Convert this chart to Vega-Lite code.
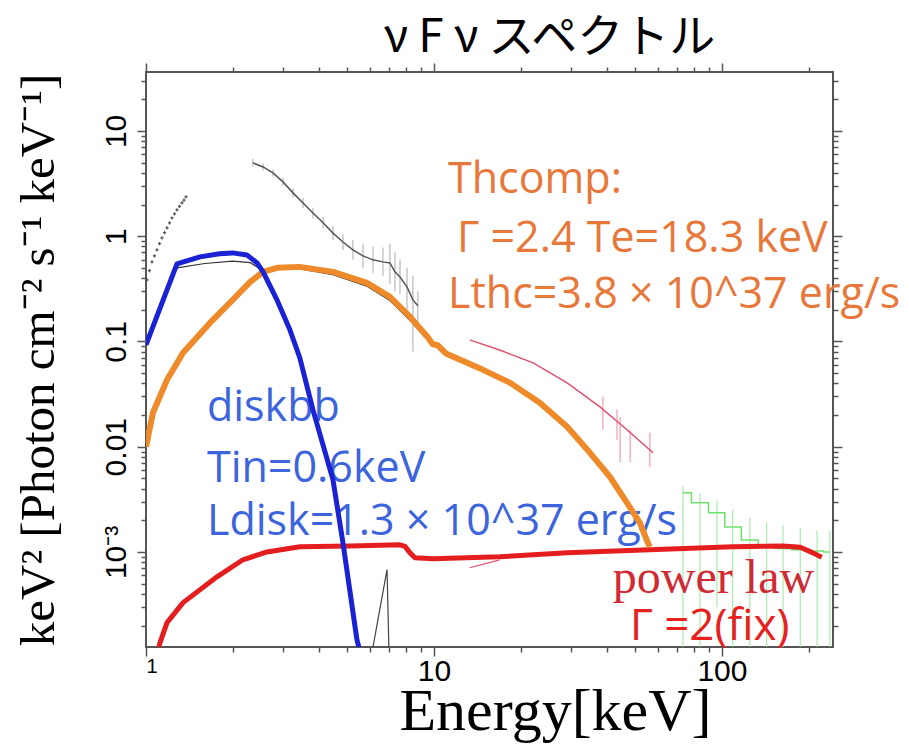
{
  "$schema": "https://vega.github.io/schema/vega-lite/v6.json",
  "width": 687,
  "height": 575,
  "autosize": {"type": "none"},
  "padding": {"left": 146, "top": 72, "right": 76, "bottom": 103},
  "background": "white",
  "title": {"text": "ν F ν スペクトル", "font": "Noto Sans CJK JP", "fontSize": 46, "fontWeight": "normal", "color": "black", "anchor": "middle", "dx": 60, "offset": 0},
  "datasets": {
    "blue": [
      {"x": 1.0, "y": 0.093}, {"x": 1.281, "y": 0.546}, {"x": 1.54, "y": 0.636}, {"x": 1.8, "y": 0.68},
      {"x": 2.0, "y": 0.694}, {"x": 2.24, "y": 0.664}, {"x": 2.43, "y": 0.557}, {"x": 2.55, "y": 0.458},
      {"x": 2.85, "y": 0.248}, {"x": 3.16, "y": 0.129}, {"x": 3.42, "y": 0.07}, {"x": 3.8, "y": 0.0224},
      {"x": 4.46, "y": 0.00485}, {"x": 4.83, "y": 0.00122}, {"x": 5.4, "y": 0.000147}, {"x": 5.6, "y": 0.0001}
    ],
    "orange": [
      {"x": 1.0, "y": 0.01}, {"x": 1.057, "y": 0.021}, {"x": 1.183, "y": 0.0432}, {"x": 1.345, "y": 0.078},
      {"x": 1.667, "y": 0.15}, {"x": 2.0, "y": 0.248}, {"x": 2.3, "y": 0.368}, {"x": 2.55, "y": 0.458},
      {"x": 2.85, "y": 0.5}, {"x": 3.42, "y": 0.511}, {"x": 4.46, "y": 0.458}, {"x": 5.85, "y": 0.36},
      {"x": 7.03, "y": 0.265}, {"x": 8.26, "y": 0.171}, {"x": 9.5, "y": 0.11}, {"x": 9.9, "y": 0.094},
      {"x": 10.3, "y": 0.092}, {"x": 11.0, "y": 0.077}, {"x": 14.8, "y": 0.0537}, {"x": 18.4, "y": 0.0404},
      {"x": 23.3, "y": 0.0261}, {"x": 29.0, "y": 0.0155}, {"x": 34.8, "y": 0.00875}, {"x": 40.8, "y": 0.00518},
      {"x": 46.8, "y": 0.00293}, {"x": 51.9, "y": 0.00189}, {"x": 55.3, "y": 0.00122}, {"x": 56.2, "y": 0.00112}
    ],
    "red": [
      {"x": 1.09, "y": 0.0001}, {"x": 1.118, "y": 0.000137}, {"x": 1.183, "y": 0.000213}, {"x": 1.345, "y": 0.00033},
      {"x": 1.764, "y": 0.00058}, {"x": 2.17, "y": 0.000843}, {"x": 2.63, "y": 0.001}, {"x": 3.42, "y": 0.00112},
      {"x": 5.11, "y": 0.00114}, {"x": 7.62, "y": 0.00117}, {"x": 7.93, "y": 0.00113}, {"x": 8.26, "y": 0.00098},
      {"x": 8.59, "y": 0.00088}, {"x": 9.92, "y": 0.00086}, {"x": 16.9, "y": 0.0009}, {"x": 29.0, "y": 0.00098},
      {"x": 56.2, "y": 0.00105}, {"x": 109, "y": 0.00112}, {"x": 163, "y": 0.00114}, {"x": 187, "y": 0.00111},
      {"x": 207, "y": 0.00098}, {"x": 222, "y": 0.00089}
    ],
    "greyLow": [
      {"x": 1.008, "y": 0.385}, {"x": 1.028, "y": 0.47}, {"x": 1.049, "y": 0.57}, {"x": 1.07, "y": 0.65},
      {"x": 1.092, "y": 0.74}, {"x": 1.114, "y": 0.85}, {"x": 1.136, "y": 0.964}, {"x": 1.16, "y": 1.08},
      {"x": 1.183, "y": 1.2}, {"x": 1.207, "y": 1.34}, {"x": 1.231, "y": 1.49}, {"x": 1.256, "y": 1.63},
      {"x": 1.281, "y": 1.78}, {"x": 1.307, "y": 1.92}, {"x": 1.333, "y": 2.07}, {"x": 1.355, "y": 2.2}, {"x": 1.377, "y": 2.36}
    ],
    "grey": [
      {"x": 2.35, "y": 4.97, "lo": 4.6, "hi": 5.4}, {"x": 2.55, "y": 4.55, "lo": 4.2, "hi": 4.9},
      {"x": 2.76, "y": 3.99, "lo": 3.7, "hi": 4.3}, {"x": 2.99, "y": 3.28, "lo": 3.0, "hi": 3.6},
      {"x": 3.24, "y": 2.58, "lo": 2.35, "hi": 2.85}, {"x": 3.51, "y": 2.07, "lo": 1.85, "hi": 2.3},
      {"x": 3.8, "y": 1.66, "lo": 1.48, "hi": 1.86}, {"x": 4.12, "y": 1.34, "lo": 1.18, "hi": 1.52},
      {"x": 4.46, "y": 1.07, "lo": 0.92, "hi": 1.25}, {"x": 4.83, "y": 0.88, "lo": 0.74, "hi": 1.05},
      {"x": 5.23, "y": 0.74, "lo": 0.6, "hi": 0.92}, {"x": 5.67, "y": 0.65, "lo": 0.5, "hi": 0.85},
      {"x": 6.14, "y": 0.596, "lo": 0.45, "hi": 0.8}, {"x": 6.65, "y": 0.57, "lo": 0.42, "hi": 0.78},
      {"x": 7.03, "y": 0.557, "lo": 0.35, "hi": 0.85}, {"x": 7.32, "y": 0.458, "lo": 0.3, "hi": 0.7},
      {"x": 7.62, "y": 0.41, "lo": 0.28, "hi": 0.6}, {"x": 8.06, "y": 0.33, "lo": 0.2, "hi": 0.5},
      {"x": 8.45, "y": 0.248, "lo": 0.08, "hi": 0.42}, {"x": 8.79, "y": 0.218, "lo": 0.15, "hi": 0.3}
    ],
    "modelLo": [
      {"x": 1.281, "y": 0.5}, {"x": 1.6, "y": 0.55}, {"x": 2.0, "y": 0.58}, {"x": 2.3, "y": 0.56}, {"x": 2.55, "y": 0.47}
    ],
    "modelMid": [
      {"x": 3.42, "y": 0.49}, {"x": 4.46, "y": 0.43}, {"x": 5.85, "y": 0.335}, {"x": 7.03, "y": 0.245}, {"x": 8.26, "y": 0.158}, {"x": 9.3, "y": 0.11}
    ],
    "spike": [
      {"x": 6.0, "y": 0.00011}, {"x": 6.14, "y": 0.000125}, {"x": 6.87, "y": 0.00068}, {"x": 6.98, "y": 0.00011}
    ],
    "pink": [
      {"x": 13.3, "y": 0.1035}, {"x": 16.9, "y": 0.083}, {"x": 22.1, "y": 0.0626}, {"x": 29.0, "y": 0.0404},
      {"x": 37.7, "y": 0.0239}, {"x": 46.8, "y": 0.0145}, {"x": 57.6, "y": 0.00875}
    ],
    "pinkErr": [
      {"x": 38.6, "lo": 0.0145, "hi": 0.0298}, {"x": 43.2, "lo": 0.0116, "hi": 0.0225},
      {"x": 44.3, "lo": 0.0071, "hi": 0.0192}, {"x": 48.0, "lo": 0.0071, "hi": 0.0145},
      {"x": 56.2, "lo": 0.0064, "hi": 0.0136}
    ],
    "pinkPl": [
      {"x": 13.3, "y": 0.000708}, {"x": 16.9, "y": 0.00084}
    ],
    "green": [
      {"x": 73.2, "y": 0.00365, "lo": 0.00005, "hi": 0.0042}, {"x": 83.9, "y": 0.00293, "lo": 0.00005, "hi": 0.0036},
      {"x": 96.1, "y": 0.00236, "lo": 0.0003, "hi": 0.0031}, {"x": 109, "y": 0.00173, "lo": 0.00005, "hi": 0.0025},
      {"x": 125, "y": 0.0013, "lo": 0.00005, "hi": 0.0021}, {"x": 143, "y": 0.00117, "lo": 0.00005, "hi": 0.0019},
      {"x": 163, "y": 0.00108, "lo": 0.00005, "hi": 0.0018}, {"x": 187, "y": 0.00105, "lo": 0.00005, "hi": 0.0017},
      {"x": 214, "y": 0.00102, "lo": 0.00005, "hi": 0.0016}, {"x": 237, "y": 0.001, "lo": 0.00005, "hi": 0.0016}
    ]
  },
  "layer": [
    {
      "data": {"name": "blue"},
      "mark": {"type": "point", "opacity": 0},
      "encoding": {
        "x": {"field": "x", "type": "quantitative", "scale": {"type": "log", "domain": [1, 243], "nice": false},
          "axis": {"orient": "bottom", "zindex": 1,
            "values": [1, 2, 3, 4, 5, 6, 7, 8, 9, 10, 20, 30, 40, 50, 60, 70, 80, 90, 100, 200],
            "labelExpr": "(datum.value == 1 || datum.value == 10 || datum.value == 100) ? format(datum.value, '~g') : ''",
            "ticks": true,
            "tickSize": {"condition": {"test": "datum.value == 1 || datum.value == 10 || datum.value == 100", "value": 9}, "value": 5},
            "tickColor": "#555555", "tickWidth": 1.5, "labelPadding": 0,
            "labelFontSize": {"condition": {"test": "datum.value == 1", "value": 20}, "value": 30},
            "labelBaseline": "top",
            "title": "Energy[keV]", "titleFont": "Liberation Serif", "titleFontSize": 60, "titleFontWeight": "normal",
            "titleColor": "black", "titlePadding": -4, "titleX": 409}},
        "y": {"field": "y", "type": "quantitative", "scale": {"type": "log", "domain": [0.000125, 36.3], "nice": false},
          "axis": {"orient": "left", "zindex": 1,
            "values": [0.0002, 0.0003, 0.0004, 0.0005, 0.0006, 0.0007, 0.0008, 0.0009, 0.001, 0.002, 0.003, 0.004, 0.005, 0.006, 0.007, 0.008, 0.009, 0.01, 0.02, 0.03, 0.04, 0.05, 0.06, 0.07, 0.08, 0.09, 0.1, 0.2, 0.3, 0.4, 0.5, 0.6, 0.7, 0.8, 0.9, 1, 2, 3, 4, 5, 6, 7, 8, 9, 10, 20, 30],
            "labelExpr": "datum.value == 0.001 ? '10⁻³' : (datum.value == 0.01 || datum.value == 0.1 || datum.value == 1 || datum.value == 10) ? format(datum.value, '~g') : ''",
            "ticks": true,
            "tickSize": {"condition": {"test": "datum.value == 0.001 || datum.value == 0.01 || datum.value == 0.1 || datum.value == 1 || datum.value == 10", "value": 9}, "value": 5},
            "tickColor": "#555555", "tickWidth": 1.5, "labelPadding": 12, "labelAngle": -90, "labelAlign": "center", "labelBaseline": "alphabetic", "labelFontSize": 30,
            "title": "keV² [Photon cm⁻² s⁻¹ keV⁻¹]", "titleFont": "Liberation Serif", "titleFontSize": 49, "titleFontWeight": "normal",
            "titleColor": "black", "titlePadding": 38}}
      }
    },
    {
      "data": {"name": "blue"},
      "mark": {"type": "point", "opacity": 0},
      "encoding": {
        "x": {"field": "x", "type": "quantitative", "scale": {"type": "log", "domain": [1, 243], "nice": false},
          "axis": {"orient": "top", "zindex": 1, "values": [1, 2, 3, 4, 5, 6, 7, 8, 9, 10, 20, 30, 40, 50, 60, 70, 80, 90, 100, 200], "labels": false, "ticks": true,
            "tickSize": {"condition": {"test": "datum.value == 1 || datum.value == 10 || datum.value == 100", "value": 9}, "value": 5},
            "tickColor": "#555555", "tickWidth": 1.5, "title": null}},
        "y": {"field": "y", "type": "quantitative", "scale": {"type": "log", "domain": [0.000125, 36.3], "nice": false},
          "axis": {"orient": "right", "zindex": 1, "values": [0.0002, 0.0003, 0.0004, 0.0005, 0.0006, 0.0007, 0.0008, 0.0009, 0.001, 0.002, 0.003, 0.004, 0.005, 0.006, 0.007, 0.008, 0.009, 0.01, 0.02, 0.03, 0.04, 0.05, 0.06, 0.07, 0.08, 0.09, 0.1, 0.2, 0.3, 0.4, 0.5, 0.6, 0.7, 0.8, 0.9, 1, 2, 3, 4, 5, 6, 7, 8, 9, 10, 20, 30], "labels": false, "ticks": true,
            "tickSize": {"condition": {"test": "datum.value == 0.001 || datum.value == 0.01 || datum.value == 0.1 || datum.value == 1 || datum.value == 10", "value": 9}, "value": 5},
            "tickColor": "#555555", "tickWidth": 1.5, "title": null}}
      }
    },
    {
      "data": {"name": "grey"},
      "mark": {"type": "rule", "color": "#b8b8b8", "strokeWidth": 1.2, "clip": true},
      "encoding": {
        "x": {"field": "x", "type": "quantitative", "scale": {"type": "log", "domain": [1, 243], "nice": false}, "axis": null},
        "y": {"field": "lo", "type": "quantitative", "scale": {"type": "log", "domain": [0.000125, 36.3], "nice": false}, "axis": null},
        "y2": {"field": "hi"}
      }
    },
    {
      "data": {"name": "grey"},
      "mark": {"type": "line", "color": "#555555", "strokeWidth": 1.5, "clip": true},
      "encoding": {
        "x": {"field": "x", "type": "quantitative", "scale": {"type": "log", "domain": [1, 243], "nice": false}, "axis": null},
        "y": {"field": "y", "type": "quantitative", "scale": {"type": "log", "domain": [0.000125, 36.3], "nice": false}, "axis": null}
      }
    },
    {
      "data": {"name": "greyLow"},
      "mark": {"type": "point", "shape": "cross", "size": 10, "filled": true, "color": "#555555", "opacity": 1, "clip": true},
      "encoding": {
        "x": {"field": "x", "type": "quantitative", "scale": {"type": "log", "domain": [1, 243], "nice": false}, "axis": null},
        "y": {"field": "y", "type": "quantitative", "scale": {"type": "log", "domain": [0.000125, 36.3], "nice": false}, "axis": null}
      }
    },
    {
      "data": {"name": "green"},
      "mark": {"type": "rule", "color": "#9be89b", "strokeWidth": 1, "clip": true},
      "encoding": {
        "x": {"field": "x", "type": "quantitative", "scale": {"type": "log", "domain": [1, 243], "nice": false}, "axis": null},
        "y": {"field": "lo", "type": "quantitative", "scale": {"type": "log", "domain": [0.000125, 36.3], "nice": false}, "axis": null},
        "y2": {"field": "hi"}
      }
    },
    {
      "data": {"name": "green"},
      "mark": {"type": "line", "color": "#6fe06f", "strokeWidth": 1.5, "interpolate": "step", "clip": true},
      "encoding": {
        "x": {"field": "x", "type": "quantitative", "scale": {"type": "log", "domain": [1, 243], "nice": false}, "axis": null},
        "y": {"field": "y", "type": "quantitative", "scale": {"type": "log", "domain": [0.000125, 36.3], "nice": false}, "axis": null}
      }
    },
    {
      "data": {"name": "pinkErr"},
      "mark": {"type": "rule", "color": "#f08a9a", "strokeWidth": 1, "clip": true},
      "encoding": {
        "x": {"field": "x", "type": "quantitative", "scale": {"type": "log", "domain": [1, 243], "nice": false}, "axis": null},
        "y": {"field": "lo", "type": "quantitative", "scale": {"type": "log", "domain": [0.000125, 36.3], "nice": false}, "axis": null},
        "y2": {"field": "hi"}
      }
    },
    {
      "data": {"name": "pink"},
      "mark": {"type": "line", "color": "#e0506e", "strokeWidth": 1.5, "clip": true},
      "encoding": {
        "x": {"field": "x", "type": "quantitative", "scale": {"type": "log", "domain": [1, 243], "nice": false}, "axis": null},
        "y": {"field": "y", "type": "quantitative", "scale": {"type": "log", "domain": [0.000125, 36.3], "nice": false}, "axis": null}
      }
    },
    {
      "data": {"name": "pinkPl"},
      "mark": {"type": "line", "color": "#e0506e", "strokeWidth": 1.2, "clip": true},
      "encoding": {
        "x": {"field": "x", "type": "quantitative", "scale": {"type": "log", "domain": [1, 243], "nice": false}, "axis": null},
        "y": {"field": "y", "type": "quantitative", "scale": {"type": "log", "domain": [0.000125, 36.3], "nice": false}, "axis": null}
      }
    },
    {
      "data": {"name": "spike"},
      "mark": {"type": "line", "color": "#444444", "strokeWidth": 1.2, "clip": true},
      "encoding": {
        "x": {"field": "x", "type": "quantitative", "scale": {"type": "log", "domain": [1, 243], "nice": false}, "axis": null},
        "y": {"field": "y", "type": "quantitative", "scale": {"type": "log", "domain": [0.000125, 36.3], "nice": false}, "axis": null}
      }
    },
    {
      "data": {"name": "modelLo"},
      "mark": {"type": "line", "color": "#333333", "strokeWidth": 1.2, "clip": true},
      "encoding": {
        "x": {"field": "x", "type": "quantitative", "scale": {"type": "log", "domain": [1, 243], "nice": false}, "axis": null},
        "y": {"field": "y", "type": "quantitative", "scale": {"type": "log", "domain": [0.000125, 36.3], "nice": false}, "axis": null}
      }
    },
    {
      "data": {"name": "modelMid"},
      "mark": {"type": "line", "color": "#333333", "strokeWidth": 1.2, "clip": true},
      "encoding": {
        "x": {"field": "x", "type": "quantitative", "scale": {"type": "log", "domain": [1, 243], "nice": false}, "axis": null},
        "y": {"field": "y", "type": "quantitative", "scale": {"type": "log", "domain": [0.000125, 36.3], "nice": false}, "axis": null}
      }
    },
    {
      "data": {"values": [
        {"x": 11.19, "y": 2.58, "text": "Thcomp:"},
        {"x": 12.02, "y": 0.71, "text": "Γ =2.4 Te=18.3 keV"},
        {"x": 11.19, "y": 0.208, "text": "Lthc=3.8 × 10^37 erg/s"}
      ]},
      "mark": {"type": "text", "font": "Open Sans", "fontSize": 43, "color": "#e8783a", "align": "left", "baseline": "alphabetic"},
      "encoding": {
        "x": {"field": "x", "type": "quantitative", "scale": {"type": "log", "domain": [1, 243], "nice": false}, "axis": null},
        "y": {"field": "y", "type": "quantitative", "scale": {"type": "log", "domain": [0.000125, 36.3], "nice": false}, "axis": null},
        "text": {"field": "text"}
      }
    },
    {
      "data": {"values": [
        {"x": 1.628, "y": 0.0176, "text": "diskbb"},
        {"x": 1.628, "y": 0.00464, "text": "Tin=0.6keV"},
        {"x": 1.628, "y": 0.00146, "text": "Ldisk=1.3 × 10^37 erg/s"}
      ]},
      "mark": {"type": "text", "font": "Open Sans", "fontSize": 43, "color": "#3c64dc", "align": "left", "baseline": "alphabetic"},
      "encoding": {
        "x": {"field": "x", "type": "quantitative", "scale": {"type": "log", "domain": [1, 243], "nice": false}, "axis": null},
        "y": {"field": "y", "type": "quantitative", "scale": {"type": "log", "domain": [0.000125, 36.3], "nice": false}, "axis": null},
        "text": {"field": "text"}
      }
    },
    {
      "data": {"values": [{"x": 41.8, "y": 0.00041, "text": "power law"}]},
      "mark": {"type": "text", "font": "Liberation Serif", "fontSize": 48, "color": "#d02a34", "align": "left", "baseline": "alphabetic"},
      "encoding": {
        "x": {"field": "x", "type": "quantitative", "scale": {"type": "log", "domain": [1, 243], "nice": false}, "axis": null},
        "y": {"field": "y", "type": "quantitative", "scale": {"type": "log", "domain": [0.000125, 36.3], "nice": false}, "axis": null},
        "text": {"field": "text"}
      }
    },
    {
      "data": {"values": [{"x": 47.9, "y": 0.000147, "text": "Γ =2(fix)"}]},
      "mark": {"type": "text", "font": "Open Sans", "fontSize": 44, "color": "#e82020", "align": "left", "baseline": "alphabetic"},
      "encoding": {
        "x": {"field": "x", "type": "quantitative", "scale": {"type": "log", "domain": [1, 243], "nice": false}, "axis": null},
        "y": {"field": "y", "type": "quantitative", "scale": {"type": "log", "domain": [0.000125, 36.3], "nice": false}, "axis": null},
        "text": {"field": "text"}
      }
    },
    {
      "data": {"name": "red"},
      "mark": {"type": "line", "color": "#e41e1e", "strokeWidth": 5, "strokeJoin": "round", "clip": true},
      "encoding": {
        "x": {"field": "x", "type": "quantitative", "scale": {"type": "log", "domain": [1, 243], "nice": false}, "axis": null},
        "y": {"field": "y", "type": "quantitative", "scale": {"type": "log", "domain": [0.000125, 36.3], "nice": false}, "axis": null}
      }
    },
    {
      "data": {"name": "orange"},
      "mark": {"type": "line", "color": "#ee8a2a", "strokeWidth": 6, "strokeJoin": "round", "clip": true},
      "encoding": {
        "x": {"field": "x", "type": "quantitative", "scale": {"type": "log", "domain": [1, 243], "nice": false}, "axis": null},
        "y": {"field": "y", "type": "quantitative", "scale": {"type": "log", "domain": [0.000125, 36.3], "nice": false}, "axis": null}
      }
    },
    {
      "data": {"name": "blue"},
      "mark": {"type": "line", "color": "#1a22d4", "strokeWidth": 5, "strokeJoin": "round", "clip": true},
      "encoding": {
        "x": {"field": "x", "type": "quantitative", "scale": {"type": "log", "domain": [1, 243], "nice": false}, "axis": null},
        "y": {"field": "y", "type": "quantitative", "scale": {"type": "log", "domain": [0.000125, 36.3], "nice": false}, "axis": null}
      }
    }
  ],
  "resolve": {"axis": {"x": "independent", "y": "independent"}},
  "config": {
    "view": {"stroke": "#555555", "strokeWidth": 2},
    "axis": {"grid": false, "domain": false, "ticks": true, "tickColor": "#555555", "tickWidth": 1.5, "labelFont": "Liberation Sans", "labelColor": "black"}
  }
}
